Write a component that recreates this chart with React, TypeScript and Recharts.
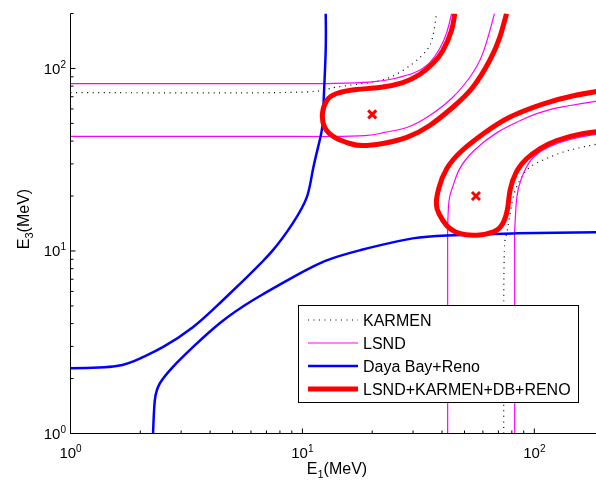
import { ComposedChart, Line, Scatter, XAxis, YAxis, Legend } from "recharts";

type Pt = { x: number; y: number };
const pts = (rows: number[][]): Pt[] => rows.map(([x, y]) => ({ x, y }));

const FONT = "'Liberation Sans', Arial, Helvetica, sans-serif";

// KARMEN (dotted)
const karmenUpper = pts([
  [1, 73.8], [8.2, 73.8], [13.1, 77.6], [18.2, 82.7], [23.8, 89.2], [29.9, 106.4],
  [34.3, 125.3], [36.4, 147.6], [37.5, 183], [37.8, 200],
]);
const karmenLower = pts([
  [73.8, 1], [74, 8], [76, 12.5], [80.5, 18.9], [86.5, 24.3], [95.5, 28.7],
  [113, 32.1], [140, 35.5], [200, 39.2],
]);

// LSND (magenta)
const lsndUpperA = pts([
  [1, 82.5], [9, 82.5], [13, 82.6], [19.5, 84.2], [25, 88.1], [30.5, 95], [35.4, 107.7],
  [39.1, 128.5], [41.9, 157], [44, 200],
]);
const lsndUpperB = pts([
  [1, 42.4], [9, 42.4], [13, 42.4], [18.6, 42.9], [22.6, 44.6], [28.2, 47.5], [35.4, 55.2],
  [44.4, 69.3], [52.6, 89.2], [59.9, 120.6], [66.1, 183], [67.4, 200],
]);
const lsndLowerA = pts([
  [82.3, 1], [82.3, 9], [82.3, 13], [84, 19.5], [88, 25], [95, 30.5], [108, 35.5],
  [128, 39.2], [157, 42], [200, 44.3],
]);
const lsndLowerB = pts([
  [42.3, 1], [42.3, 9], [42.3, 13], [42.8, 18.5], [44.5, 22.5], [47.5, 28], [55, 35.5],
  [69, 44.5], [89, 52.5], [120, 60], [183, 66], [200, 67.4],
]);

// Daya Bay + Reno (blue)
const dbUpper = pts([
  [1, 2.28], [1.58, 2.34], [2.05, 2.62], [2.5, 2.97], [3.37, 3.82], [4.4, 5.17],
  [5.75, 7.17], [7.45, 10.08], [9.08, 14.16], [10.44, 19.65], [11.08, 27.6],
  [11.87, 40.3], [12.23, 49.9], [12.35, 66.7], [12.6, 125], [12.6, 200],
]);
const dbLower = pts([
  [2.27, 1], [2.31, 1.52], [2.43, 1.885], [2.76, 2.31], [3.37, 2.97], [4.4, 4.02],
  [6.11, 5.37], [9.08, 7.17], [12.73, 8.88], [17.66, 10.08], [21.5, 10.73],
  [29.9, 11.72], [41.9, 12.17], [80.6, 12.48], [200, 12.7],
]);

// LSND+KARMEN+DB+RENO (red)
const combUpper = pts([
  [45.4, 200], [43.9, 161], [40.3, 125], [36.4, 106], [32.0, 92.6], [27.1, 83.7],
  [21.5, 78.6], [17.1, 76.7], [14.05, 72.9], [12.73, 66.7], [12.2, 56.6],
  [12.48, 47.5], [13.78, 41.9], [16.0, 38.8], [18.2, 37.8], [22.2, 38.8],
  [28.2, 41.9], [35.4, 48.7], [44.4, 61.1], [54.2, 78.6], [64.2, 110.5],
  [70.9, 147.6], [75.9, 200],
]);
const combLower = pts([
  [200, 45.4], [161, 43.9], [125, 40.3], [106, 36.4], [92.6, 32.0], [83.7, 27.1],
  [78.6, 21.5], [76.7, 17.1], [72.9, 14.05], [66.7, 12.73], [56.6, 12.2],
  [47.5, 12.48], [41.9, 13.78], [38.8, 16.0], [37.8, 18.2], [38.8, 22.2],
  [41.9, 28.2], [48.7, 35.4], [61.1, 44.4], [78.6, 54.2], [110.5, 64.2],
  [147.6, 70.9], [200, 75.9],
]);

const bestFit = pts([[20, 56], [56, 20]]);

const xTicks = [1, 2, 3, 4, 5, 6, 7, 8, 9, 10, 20, 30, 40, 50, 60, 70, 80, 90, 100];
const yTicks = [1, 2, 3, 4, 5, 6, 7, 8, 9, 10, 20, 30, 40, 50, 60, 70, 80, 90, 100, 200];
const decadeExp: Record<number, string> = { 1: "0", 10: "1", 100: "2" };

const legendItems = [
  { name: "KARMEN", color: "#000000", width: 1.2, dash: "1 4.5" },
  { name: "LSND", color: "#ff00ff", width: 1.2, dash: undefined },
  { name: "Daya Bay+Reno", color: "#0000ff", width: 2.5, dash: undefined },
  { name: "LSND+KARMEN+DB+RENO", color: "#ff0000", width: 5, dash: undefined },
];

function BottomTick({ x, y, payload }: any) {
  const exp = decadeExp[payload.value];
  return (
    <g>
      <line x1={x} y1={y} x2={x} y2={y - (exp ? 5 : 3)} stroke="#000" />
      {exp && (
        <text x={x} y={y + 24.5} textAnchor="middle" fontSize={15} fontFamily={FONT} fill="#000">
          10<tspan dy={-6} fontSize={10}>{exp}</tspan>
        </text>
      )}
    </g>
  );
}

function TopTick({ x, y, payload }: any) {
  const exp = decadeExp[payload.value];
  return <line x1={x} y1={y} x2={x} y2={y + (exp ? 5 : 3)} stroke="#000" />;
}

function LeftTick({ x, y, payload }: any) {
  const exp = decadeExp[payload.value];
  return (
    <g>
      <line x1={x} y1={y} x2={x + (exp ? 5 : 3)} y2={y} stroke="#000" />
      {exp && (
        <text x={x - 4.5} y={y + 5.5} textAnchor="end" fontSize={15} fontFamily={FONT} fill="#000">
          10<tspan dy={-6} fontSize={10}>{exp}</tspan>
        </text>
      )}
    </g>
  );
}

function Cross({ cx, cy }: any) {
  const r = 4;
  return (
    <g stroke="#ff0000" strokeWidth={3}>
      <line x1={cx - r} y1={cy - r} x2={cx + r} y2={cy + r} />
      <line x1={cx - r} y1={cy + r} x2={cx + r} y2={cy - r} />
    </g>
  );
}

function LegendBox() {
  return (
    <div style={{ width: 281, height: 98, border: "1px solid #000", boxSizing: "border-box", background: "#fff" }}>
      <svg width={279} height={96} style={{ display: "block" }}>
        {legendItems.map((it, i) => {
          const cy = 14 + i * 23;
          return (
            <g key={it.name}>
              <line x1={9} y1={cy} x2={59} y2={cy} stroke={it.color} strokeWidth={it.width} strokeDasharray={it.dash} />
              <text x={64} y={cy + 5.5} fontSize={16} fontFamily={FONT} fill="#000">{it.name}</text>
            </g>
          );
        })}
      </svg>
    </div>
  );
}

export default function App() {
  return (
    <div style={{ position: "fixed", left: 8, top: 8 }}>
      <ComposedChart width={588} height={472} margin={{ top: 5.5, right: 0, bottom: 0, left: 0 }}>
        <XAxis
          xAxisId={0}
          dataKey="x"
          type="number"
          scale="log"
          domain={[1, 184.5]}
          allowDataOverflow
          ticks={xTicks}
          interval={0}
          tickSize={0}
          tickMargin={0}
          tickLine={false}
          tick={<BottomTick />}
          height={46.5}
          axisLine={{ stroke: "#000" }}
          label={() => (
            <text x={329} y={466} textAnchor="middle" fontSize={16} fontFamily={FONT} fill="#000">
              E<tspan dy={4} fontSize={11}>1</tspan><tspan dy={-4}>(MeV)</tspan>
            </text>
          )}
        />
        <XAxis
          xAxisId="top"
          orientation="top"
          type="number"
          scale="log"
          domain={[1, 184.5]}
          allowDataOverflow
          ticks={xTicks}
          interval={0}
          tickSize={0}
          tickMargin={0}
          tickLine={false}
          tick={<TopTick />}
          height={0}
          axisLine={{ stroke: "#000" }}
        />
        <YAxis
          dataKey="y"
          type="number"
          scale="log"
          domain={[1, 200]}
          allowDataOverflow
          ticks={yTicks}
          interval={0}
          tickSize={0}
          tickMargin={0}
          tickLine={false}
          tick={<LeftTick />}
          width={62.5}
          axisLine={{ stroke: "#000" }}
          label={() => (
            <text x={21} y={211} transform="rotate(-90, 21, 211)" textAnchor="middle" fontSize={16} fontFamily={FONT} fill="#000">
              E<tspan dy={4} fontSize={11}>3</tspan><tspan dy={-4}>(MeV)</tspan>
            </text>
          )}
        />
        <Line data={karmenUpper} dataKey="y" type="natural" stroke="#000" strokeWidth={1.2} strokeDasharray="1 4.5" dot={false} isAnimationActive={false} />
        <Line data={karmenLower} dataKey="y" type="natural" stroke="#000" strokeWidth={1.2} strokeDasharray="1 4.5" dot={false} isAnimationActive={false} />
        <Line data={lsndUpperA} dataKey="y" type="natural" stroke="#ff00ff" strokeWidth={1.2} dot={false} isAnimationActive={false} />
        <Line data={lsndUpperB} dataKey="y" type="natural" stroke="#ff00ff" strokeWidth={1.2} dot={false} isAnimationActive={false} />
        <Line data={lsndLowerA} dataKey="y" type="natural" stroke="#ff00ff" strokeWidth={1.2} dot={false} isAnimationActive={false} />
        <Line data={lsndLowerB} dataKey="y" type="natural" stroke="#ff00ff" strokeWidth={1.2} dot={false} isAnimationActive={false} />
        <Line data={dbUpper} dataKey="y" type="natural" stroke="#0000ff" strokeWidth={2.5} dot={false} isAnimationActive={false} />
        <Line data={dbLower} dataKey="y" type="natural" stroke="#0000ff" strokeWidth={2.5} dot={false} isAnimationActive={false} />
        <Line data={combUpper} dataKey="y" type="natural" stroke="#ff0000" strokeWidth={5} dot={false} isAnimationActive={false} />
        <Line data={combLower} dataKey="y" type="natural" stroke="#ff0000" strokeWidth={5} dot={false} isAnimationActive={false} />
        <Scatter data={bestFit} dataKey="y" shape={<Cross />} isAnimationActive={false} />
        <Legend
          layout="vertical"
          align="center"
          verticalAlign="middle"
          content={() => <LegendBox />}
          wrapperStyle={{ left: 290, top: 297, width: 281, height: 98 }}
        />
      </ComposedChart>
    </div>
  );
}
